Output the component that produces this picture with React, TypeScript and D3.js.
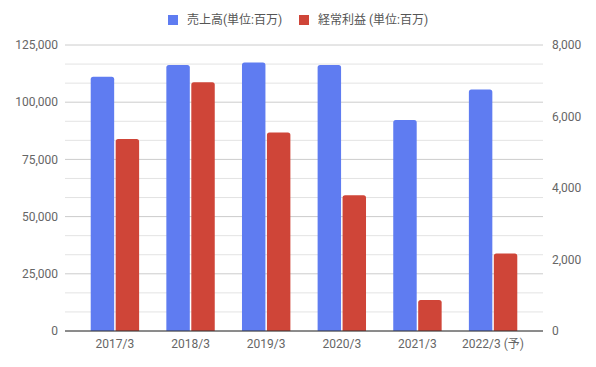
import * as d3 from "d3";

const categories = ["2017/3", "2018/3", "2019/3", "2020/3", "2021/3", "2022/3 (予)"];
const sales = [111100, 116300, 117300, 116300, 92200, 105600];
const profit = [5370, 6960, 5550, 3800, 870, 2170];
const leftTicks = [0, 25000, 50000, 75000, 100000, 125000];
const rightTicks = [0, 2000, 4000, 6000, 8000];
const seriesNames = ["売上高(単位:百万)", "経常利益 (単位:百万)"];
const colors = ["#5f7cf1", "#cf4538"];

const font = "Roboto, 'Noto Sans CJK JP', sans-serif";

function barPath(x: number, y: number, w: number, h: number, r: number) {
  const rr = Math.min(r, h / 2, w / 2);
  return `M${x},${y + h}V${y + rr}Q${x},${y} ${x + rr},${y}H${x + w - rr}Q${x + w},${y} ${x + w},${y + rr}V${y + h}Z`;
}

export default function App() {
  const width = 596;
  const height = 367;
  const left = 65;
  const right = 543;
  const top = 45;
  const bottom = 331;

  const x0 = d3.scaleBand().domain(categories).range([left, right]).paddingInner(0.36).paddingOuter(0.34);
  const x1 = d3.scaleBand<number>().domain([0, 1]).range([0, x0.bandwidth()]).paddingInner(0.06);
  const yL = d3.scaleLinear().domain([0, 125000]).range([bottom, top]);
  const yR = d3.scaleLinear().domain([0, 8000]).range([bottom, top]);
  const grid = d3.range(0, 125001, 25000 / 3);
  const fmt = d3.format(",");

  return (
    <svg width={width} height={height} style={{ position: "absolute", left: 0, top: 0 }} fontFamily={font}>
      <rect width={width} height={height} fill="#fff" />
      {/* gridlines */}
      {grid.map((g, i) => (
        <line key={i} x1={left} x2={right} y1={yL(g)} y2={yL(g)} stroke={i % 3 === 0 ? "#cccccc" : "#e3e3e3"} strokeWidth={1} />
      ))}
      {/* bars */}
      {categories.map((c, i) => {
        const bx = x0(c)!;
        const w = x1.bandwidth();
        const sy = yL(sales[i]);
        const py = yR(profit[i]);
        return (
          <g key={c}>
            <path d={barPath(bx + x1(0)!, sy, w, bottom - sy, 2.5)} fill={colors[0]} />
            <path d={barPath(bx + x1(1)!, py, w, bottom - py, 2.5)} fill={colors[1]} />
          </g>
        );
      })}
      <line x1={left} x2={right} y1={bottom} y2={bottom} stroke="#333" strokeWidth={1} />
      {/* left axis */}
      {leftTicks.map((t) => (
        <text key={t} x={58} y={yL(t)} dy="0.35em" textAnchor="end" fontSize={12} fill="#666">
          {fmt(t)}
        </text>
      ))}
      {/* right axis */}
      {rightTicks.map((t) => (
        <text key={t} x={552} y={yR(t)} dy="0.35em" textAnchor="start" fontSize={12} fill="#666">
          {fmt(t)}
        </text>
      ))}
      {/* x labels */}
      {categories.map((c) => (
        <text key={c} x={x0(c)! + x0.bandwidth() / 2} y={348} textAnchor="middle" fontSize={12} fill="#666">
          {c}
        </text>
      ))}
      {/* legend */}
      <g>
        <rect x={168} y={15} width={10} height={10} fill={colors[0]} />
        <text x={187} y={20} dy="0.35em" fontSize={12} fill="#555">{seriesNames[0]}</text>
        <rect x={299} y={15} width={10} height={10} fill={colors[1]} />
        <text x={318} y={20} dy="0.35em" fontSize={12} fill="#555">{seriesNames[1]}</text>
      </g>
    </svg>
  );
}
